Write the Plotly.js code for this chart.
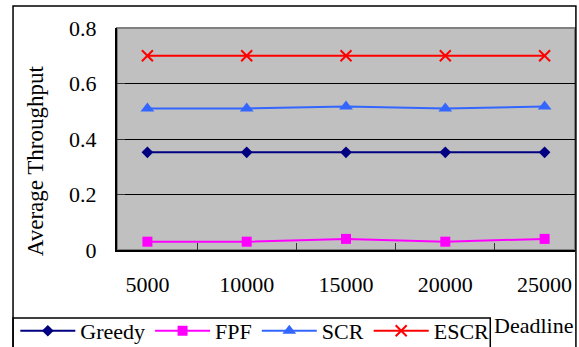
<!DOCTYPE html>
<html>
<head>
<meta charset="utf-8">
<script src="https://cdn.plot.ly/plotly-3.0.1.min.js"></script>
<style>html,body{margin:0;padding:0;background:#fff;}#chart{width:579px;height:347px;}</style>
</head>
<body>
<div id="chart"></div>
<script>
var categories = ['5000', '10000', '15000', '20000', '25000'];
var greedy = [0.352, 0.352, 0.352, 0.352, 0.352];
var fpf = [0.03, 0.03, 0.04, 0.03, 0.04];
var scr = [0.51, 0.51, 0.517, 0.51, 0.517];
var escr = [0.70, 0.70, 0.70, 0.70, 0.70];
var seriesNames = ['Greedy', 'FPF', 'SCR', 'ESCR'];

var FONT = 'Liberation Serif';
var traces = [
  {x: categories, y: greedy, name: seriesNames[0], type: 'scatter', mode: 'lines+markers',
   line: {color: '#000080', width: 2}, marker: {symbol: 'diamond', size: 9, color: '#000080'}},
  {x: categories, y: fpf, name: seriesNames[1], type: 'scatter', mode: 'lines+markers',
   line: {color: '#FF00FF', width: 2}, marker: {symbol: 'square', size: 10, color: '#FF00FF'}},
  {x: categories, y: scr, name: seriesNames[2], type: 'scatter', mode: 'lines+markers',
   line: {color: '#3366FF', width: 2}, marker: {symbol: 'triangle-up', size: 12, color: '#3366FF'}},
  {x: categories, y: escr, name: seriesNames[3], type: 'scatter', mode: 'lines+markers',
   line: {color: '#FF0000', width: 2}, marker: {symbol: 'x-thin-open', size: 11, color: '#FF0000', line: {color: '#FF0000', width: 2}}}
];

var layout = {
  width: 579, height: 347,
  margin: {l: 117, r: 4, t: 28, b: 97, autoexpand: false},
  paper_bgcolor: '#ffffff',
  plot_bgcolor: '#C0C0C0',
  font: {family: FONT, size: 22, color: '#000', weight: 'normal'},
  showlegend: true,
  xaxis: {
    type: 'category', showgrid: false, zeroline: false,
    showline: true, linecolor: '#000', linewidth: 2,
    ticks: 'inside', tickson: 'boundaries', ticklen: 7, tickcolor: '#333', tickwidth: 1,
    ticklabelstandoff: 14,
    tickfont: {family: FONT, size: 22, color: '#000', weight: 'normal'}
  },
  yaxis: {
    range: [0, 0.8], dtick: 0.2, tick0: 0,
    showgrid: true, gridcolor: '#000', gridwidth: 1, zeroline: false,
    showline: true, linecolor: '#000', linewidth: 2,
    ticks: 'inside', ticklen: 8, tickcolor: '#333', tickwidth: 1,
    ticklabelstandoff: 14,
    tickfont: {family: FONT, size: 22, color: '#000', weight: 'normal'}
  },
  legend: {
    orientation: 'h', x: -0.222, y: -0.27, xanchor: 'left', yanchor: 'top',
    xref: 'paper', yref: 'paper',
    borderwidth: 0, bgcolor: 'rgba(0,0,0,0)',
    font: {family: FONT, size: 22, color: '#000', weight: 'normal'},
    itemwidth: 55
  },
  shapes: [
    {type: 'rect', xref: 'paper', yref: 'paper', x0: 0, x1: 1, y0: 0, y1: 1,
     line: {color: '#808080', width: 2}, layer: 'below'},
    {type: 'rect', xref: 'paper', yref: 'paper', x0: -0.227, x1: 0.815, y0: -0.6, y1: -0.306,
     line: {color: '#000', width: 1.5}, layer: 'above'},
    {type: 'rect', xref: 'paper', yref: 'paper', x0: -0.227, x1: 1.002, y0: -0.6, y1: 1.099,
     line: {color: '#000', width: 1.5}, layer: 'above'}
  ],
  annotations: [
    {text: 'Average Throughput', xref: 'paper', yref: 'paper', x: -0.179, y: 0.40,
     xanchor: 'center', yanchor: 'middle', textangle: -90, showarrow: false,
     font: {family: FONT, size: 23, color: '#000'}},
    {text: 'Deadline', xref: 'paper', yref: 'paper', x: 1.0, y: -0.34,
     xanchor: 'right', yanchor: 'middle', showarrow: false,
     font: {family: FONT, size: 22, color: '#000'}}
  ]
};

Plotly.newPlot('chart', traces, layout, {displayModeBar: false, staticPlot: true});
</script>
</body>
</html>
